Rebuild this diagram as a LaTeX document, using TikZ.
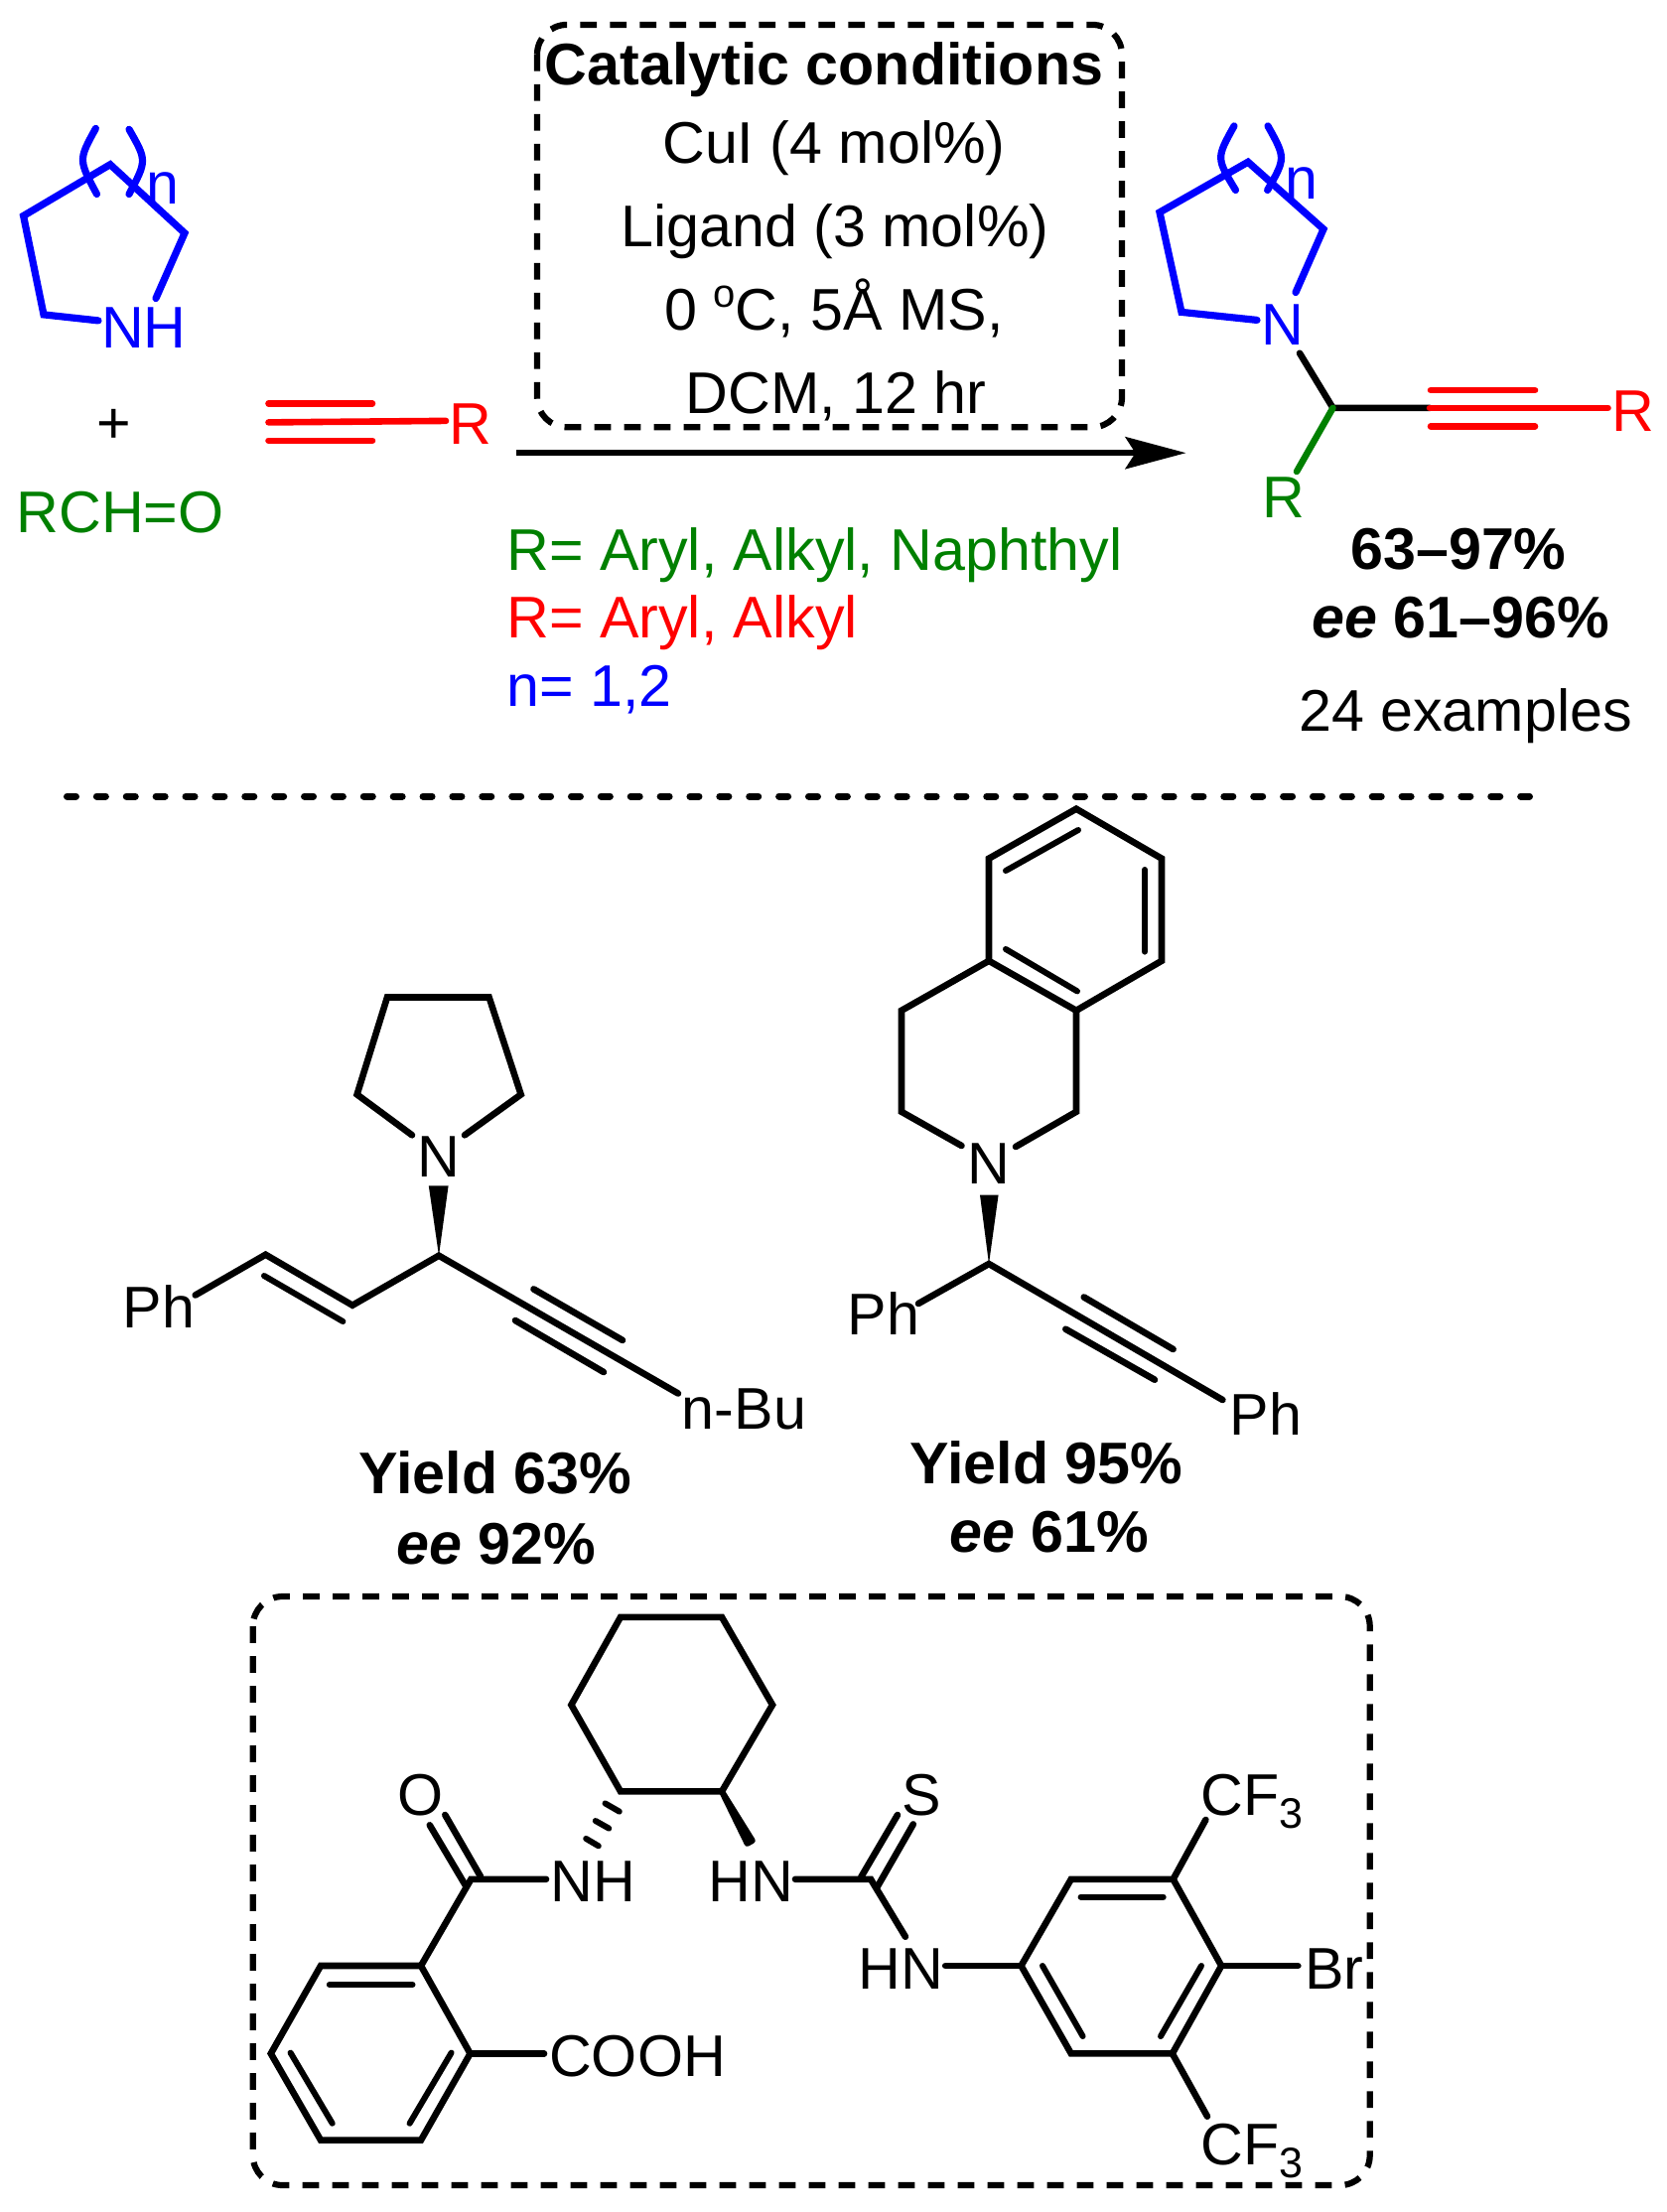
\documentclass[tikz,border=0pt]{standalone}
\usepackage{fontspec}
\setmainfont{Liberation Sans}
\usepackage{xcolor}
\usetikzlibrary{arrows.meta}
\definecolor{chemgreen}{RGB}{0,128,0}
\newcommand{\lowthree}{\raisebox{-6.5pt}{\fontsize{21.5}{22}\selectfont 3}}
\newcommand{\smalldeg}{\raisebox{11.4pt}{\fontsize{20}{20}\selectfont o}}
\tikzset{
    lab/.style={inner sep=0pt, anchor=base, font=\fontsize{29.6}{35}\selectfont},
    lableft/.style={lab, anchor=base west},
    boldlab/.style={lab, font=\fontsize{29.6}{35}\selectfont\bfseries},
    bond/.style={line width=3.3pt, line cap=round, line join=miter},
    bluebond/.style={bond, blue, line width=3.6pt},
    thinbond/.style={line width=3pt, line cap=round},
    boxdash/.style={line width=3.1pt, dash pattern=on 8.4pt off 6.6pt, rounded corners=15pt},
    rxnarrow/.style={line width=3.2pt, -{Stealth[length=30.5pt, width=16pt, inset=5pt]}}
}

\begin{document}
\begin{tikzpicture}[x=0.5pt, y=-0.5pt]
    \useasboundingbox (0,0) rectangle (1679,2228);

    \foreach \n/\x/\y in {
        aa/23.6/217.4, ab/111/165.7, ac/186/234.8, ad/157/300.5, ae/44/316.9, af/99/322.9,
        ag/96.4/129.4, ah/79/161, ai/97.5/195.5, aj/130/130.3, ak/148/161.7, al/130/195.5,
        ba/270.5/406.4, bb/375/406.4, bc/270.5/425.4, bd/449/423.9, be/270.5/443.8, bf/375/443.8,
        ca/1168/213.9, cb/1257/163.2, cc/1333/230.8, cd/1305/294.5, ce/1190/314.4, cf/1266/322.4,
        cg/1243/126.9, ch/1225/159.2, ci/1244.5/191.5, cj/1277/126.9, ck/1295/159.2, cl/1276.6/191.5,
        cm/1309/355.7, cn/1342.5/410.9, co/1440/410.9, cp/1619.5/410.9,
        cq/1441/393, cr/1546/393, cs/1441/429.4, ct/1546/429.4, cu/1306/475,
        arrowstart/520/456.2, arrowtip/1194.6/456.2, rulestart/67.5/802, ruleend/1540.5/802,
        da/415/1143.3, db/359.6/1102.4, dc/390/1004.5, dd/492.6/1004.5, de/524.7/1102.4, df/468/1143.3,
        dg/431.8/1194.3, dh/451.6/1194.3, di/442/1264.7, dj/683/1403.5,
        dk/537.5/1298.4, dl/627/1349.9, dm/519/1330, dn/608/1382,
        do/355/1314.7, dp/267.5/1263.7, dq/196.7/1304.5, dr/266/1285, ds/345.4/1331,
        ea/1084/814.7, eb/1170/864.7, ec/1170/967.8, ed/1084/1017.8, ee/996/967.8, ef/996/864.7,
        eg/1013/877, eh/1086/836, ei/1153/876, ej/1153/958.6, ek/1013/956, el/1085/998.4,
        em/908/1017.8, en/908/1119.8, eo/968.5/1154, ep/1084/1119.8, eq/1023/1155,
        er/987/1203.5, es/1005.6/1203.5, et/996/1273, eu/925/1313, ev/1231.4/1410,
        ew/1091.7/1306.5, ex/1181.6/1359, ey/1073.3/1338.7, ez/1163/1389.7,
        fa/625/1628.8, fb/727/1628.8, fc/778/1717.2, fd/727/1804.4, fe/625/1804.4, ff/575.4/1717.2,
        fg/609.5/1816.4, fh/623.8/1824.6, fi/599.8/1834, fj/613.3/1841.6, fk/590.2/1851.9, fl/602.8/1859.3,
        fm/757.8/1853.9, fn/752.6/1856.8,
        ga/474.4/1892.8, gb/550/1892.8, gc/448.3/1828, gd/484/1890, ge/432.8/1838.3, gf/469.4/1900,
        gg/424/1980, gh/323/1980, gi/272.8/2068.4, gj/323/2155.6, gk/424/2155.6, gl/473.6/2068.4,
        gm/331.8/1999, gn/415.5/1999, go/292.6/2067.6, gp/334.7/2138.7, gq/454.6/2067.6, gr/412.6/2138.7,
        gs/548/2068.4,
        ha/801/1892.8, hb/877/1892.8, hc/867.2/1890.7, hd/904/1828, he/883.8/1900.2, hf/919.8/1837.4,
        hg/911.9/1950.7, hh/952.2/1980, hi/1028.5/1980, hj/1078.8/1892.8, hk/1181.6/1892.8,
        hl/1230.2/1980, hm/1180.8/2068.4, hn/1078.8/2068.4,
        ho/1088.6/1910.6, hp/1171.7/1910.6, hq/1210/1980, hr/1169/2051, hs/1050/1980, ht/1090.6/2051,
        hu/1214.4/1832.9, hv/1216/2131.7, hw/1307.3/1980
    } \coordinate (\n) at (\x,\y);

    \draw[boxdash] (541,24.9) rectangle (1130,430.3);
    \draw[boxdash] (254.7,1608) rectangle (1379.7,2201);

    \node[boldlab] (condtitle) at (830,85.6) {Catalytic conditions};
    \node[lab] (condcu) at (840,164.2) {CuI (4 mol\%)};
    \node[lab] (condlig) at (841,248.8) {Ligand (3 mol\%)};
    \node[lab] (condtemp) at (840,332.3) {0 \smalldeg C, 5Å MS,};
    \node[lab] (condsolv) at (842,416.9) {DCM, 12 hr};

    \draw[rxnarrow] (arrowstart) -- (arrowtip);
    \draw[line width=3.5pt, line cap=round, dash pattern=on 4.5pt off 10.44pt] (rulestart) -- (ruleend);

    \draw[bluebond] (af) -- (ae) -- (aa) -- (ab) -- (ac) -- (ad);
    \draw[bluebond] (ag) .. controls (ah) .. (ai);
    \draw[bluebond] (aj) .. controls (ak) .. (al);
    \node[lab, blue] (amineNH) at (145,350.7) {NH};
    \node[lab, blue] (aminen) at (163.5,205) {n};
    \node[lab] (plussign) at (115,446) {+};
    \node[lab, chemgreen] (aldehyde) at (121,536.3) {RCH=O};

    \draw[bond, red] (ba) -- (bb);
    \draw[bond, red] (bc) -- (bd);
    \draw[bond, red] (be) -- (bf);
    \node[lab, red] (alkyneR) at (473.5,447.8) {R};

    \node[lableft, chemgreen] (legendgreen) at (510,574.6) {R= Aryl, Alkyl, Naphthyl};
    \node[lableft, red] (legendred) at (510,642.8) {R= Aryl, Alkyl};
    \node[lableft, blue] (legendblue) at (510,711.4) {n= 1,2};

    \draw[bluebond] (cf) -- (ce) -- (ca) -- (cb) -- (cc) -- (cd);
    \draw[bluebond] (cg) .. controls (ch) .. (ci);
    \draw[bluebond] (cj) .. controls (ck) .. (cl);
    \draw[bond] (cm) -- (cn) -- (co);
    \draw[bond, chemgreen] (cn) -- (cu);
    \draw[bond, red] (co) -- (cp);
    \draw[bond, red] (cq) -- (cr);
    \draw[bond, red] (cs) -- (ct);
    \node[lab, blue] (productN) at (1292,347.3) {N};
    \node[lab, blue] (productn) at (1310.5,200.5) {n};
    \node[lab, red] (productRa) at (1644.7,434.3) {R};
    \node[lab, chemgreen] (productRb) at (1292.5,521.4) {R};
    \node[boldlab] (rangeyield) at (1469,573) {63–97\%};
    \node[boldlab] (rangeee) at (1471,642.8) {\textit{ee} 61–96\%};
    \node[lab] (examples) at (1476,736.3) {24 examples};

    \draw[bond] (da) -- (db) -- (dc) -- (dd) -- (de) -- (df);
    \fill (dg) -- (dh) -- (di) -- cycle;
    \draw[bond] (dj) -- (di) -- (do) -- (dp) -- (dq);
    \draw[bond] (dk) -- (dl);
    \draw[bond] (dm) -- (dn);
    \draw[thinbond] (dr) -- (ds);
    \node[lab] (pyrrN) at (442,1185.6) {N};
    \node[lab] (firstPh) at (160,1337) {Ph};
    \node[lab] (firstBu) at (749.5,1439.7) {n-Bu};
    \node[boldlab] (firstyield) at (499,1504.5) {Yield 63\%};
    \node[boldlab] (firstee) at (499.5,1575) {\textit{ee} 92\%};

    \draw[bond] (ea) -- (eb) -- (ec) -- (ed) -- (ee) -- (ef) -- cycle;
    \draw[thinbond] (eg) -- (eh);
    \draw[thinbond] (ei) -- (ej);
    \draw[thinbond] (ek) -- (el);
    \draw[bond] (ee) -- (em) -- (en) -- (eo);
    \draw[bond] (ed) -- (ep) -- (eq);
    \fill (er) -- (es) -- (et) -- cycle;
    \draw[bond] (eu) -- (et) -- (ev);
    \draw[bond] (ew) -- (ex);
    \draw[bond] (ey) -- (ez);
    \node[lab] (isoqN) at (996,1192) {N};
    \node[lab] (secondPha) at (890,1344.8) {Ph};
    \node[lab] (secondPhb) at (1275,1445.8) {Ph};
    \node[boldlab] (secondyield) at (1054,1494) {Yield 95\%};
    \node[boldlab] (secondee) at (1056.5,1563) {\textit{ee} 61\%};

    \draw[bond] (fa) -- (fb) -- (fc) -- (fd) -- (fe) -- (ff) -- cycle;
    \draw[thinbond] (fg) -- (fh);
    \draw[thinbond] (fi) -- (fj);
    \draw[thinbond] (fk) -- (fl);
    \fill[draw, line width=3pt, line join=round] (fd) -- (fm) -- (fn) -- cycle;
    \draw[bond] (gb) -- (ga) -- (gg);
    \draw[bond] (gc) -- (gd);
    \draw[bond] (ge) -- (gf);
    \draw[bond] (gg) -- (gh) -- (gi) -- (gj) -- (gk) -- (gl) -- cycle;
    \draw[thinbond] (gm) -- (gn);
    \draw[thinbond] (go) -- (gp);
    \draw[thinbond] (gq) -- (gr);
    \draw[bond] (gl) -- (gs);
    \draw[bond] (ha) -- (hb) -- (hg);
    \draw[bond] (hc) -- (hd);
    \draw[bond] (he) -- (hf);
    \draw[bond] (hh) -- (hi);
    \draw[bond] (hi) -- (hj) -- (hk) -- (hl) -- (hm) -- (hn) -- cycle;
    \draw[thinbond] (ho) -- (hp);
    \draw[thinbond] (hq) -- (hr);
    \draw[thinbond] (hs) -- (ht);
    \draw[bond] (hk) -- (hu);
    \draw[bond] (hm) -- (hv);
    \draw[bond] (hl) -- (hw);
    \node[lab] (ligandO) at (423.5,1828) {O};
    \node[lab] (ligandNH) at (597.3,1915.5) {NH};
    \node[lab] (ligandHNa) at (756.2,1915.5) {HN};
    \node[lab] (ligandCOOH) at (642,2091.6) {COOH};
    \node[lab] (ligandS) at (928.5,1828) {S};
    \node[lab] (ligandHNb) at (907.6,2003.6) {HN};
    \node[lab] (ligandBr) at (1344,2003.6) {Br};
    \node[lableft] (ligandCFa) at (1209,1828) {CF\lowthree};
    \node[lableft] (ligandCFb) at (1209,2180.4) {CF\lowthree};
\end{tikzpicture}
\end{document}
